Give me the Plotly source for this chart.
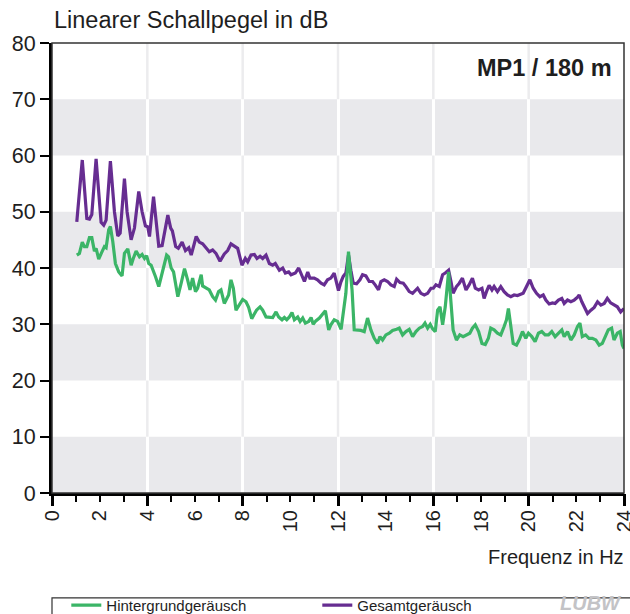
import plotly.graph_objects as go

# Hintergrundgeräusch (background noise), frequency in Hz / level in dB
hz_hintergrund = [
    1.04, 1.15, 1.27, 1.36, 1.46, 1.57, 1.67, 1.78, 1.85, 1.96, 2.10, 2.20, 2.27, 2.38, 2.45,
    2.55, 2.66, 2.80, 2.94, 3.04, 3.18, 3.32, 3.41, 3.53, 3.67, 3.78, 3.88, 3.97, 4.06, 4.16,
    4.34, 4.48, 4.65, 4.81, 4.89, 5.00, 5.10, 5.28, 5.42, 5.56, 5.69, 5.79, 5.90, 6.02, 6.11,
    6.26, 6.32, 6.47, 6.60, 6.74, 6.86, 6.99, 7.09, 7.23, 7.41, 7.51, 7.61, 7.72, 7.86, 8.00,
    8.14, 8.25, 8.38, 8.49, 8.58, 8.73, 8.84, 8.98, 9.12, 9.26, 9.40, 9.51, 9.65, 9.75, 9.85,
    9.96, 10.07, 10.17, 10.31, 10.41, 10.52, 10.63, 10.77, 10.87, 10.96, 11.07, 11.22, 11.33,
    11.47, 11.61, 11.70, 11.84, 11.98, 12.13, 12.33, 12.44, 12.59, 12.68, 12.82, 12.96, 13.10,
    13.24, 13.38, 13.52, 13.66, 13.76, 13.87, 14.01, 14.15, 14.29, 14.46, 14.57, 14.71, 14.85,
    14.99, 15.13, 15.27, 15.41, 15.55, 15.65, 15.76, 15.87, 15.97, 16.08, 16.18, 16.28, 16.39,
    16.50, 16.64, 16.74, 16.83, 16.97, 17.11, 17.25, 17.39, 17.53, 17.64, 17.76, 17.90, 18.04,
    18.18, 18.31, 18.41, 18.55, 18.69, 18.83, 18.97, 19.07, 19.15, 19.25, 19.35, 19.49, 19.60,
    19.74, 19.88, 19.99, 20.13, 20.27, 20.41, 20.55, 20.69, 20.83, 20.97, 21.11, 21.25, 21.39,
    21.49, 21.63, 21.77, 21.91, 22.05, 22.15, 22.25, 22.39, 22.53, 22.67, 22.82, 22.96, 23.09,
    23.23, 23.34, 23.48, 23.58, 23.72, 23.84, 23.93, 24.00,
]
db_hintergrund = [
    42.3, 42.6, 44.6, 43.8, 43.8, 45.4, 45.4, 43.0, 43.5, 41.6, 42.9, 43.8, 43.6, 46.8, 47.4,
    44.7, 40.8, 39.3, 38.6, 42.6, 43.4, 40.5, 41.7, 43.0, 42.0, 42.4, 41.7, 42.2, 40.8, 40.5,
    38.5, 36.7, 39.6, 42.3, 42.0, 40.0, 39.3, 34.9, 37.3, 39.9, 37.9, 36.1, 38.2, 35.8, 36.4,
    38.8, 36.8, 36.4, 36.1, 34.9, 34.3, 35.8, 36.1, 33.7, 35.2, 37.9, 36.4, 32.5, 33.4, 34.4,
    34.0, 33.0, 31.0, 32.0, 32.5, 33.1, 32.5, 31.3, 31.2, 31.2, 32.2, 31.3, 30.8, 31.2, 30.8,
    31.3, 32.1, 30.8, 31.3, 30.5, 31.1, 30.2, 30.5, 31.2, 30.0, 30.6, 31.1, 31.6,
    32.4, 29.0, 29.9, 30.8, 30.5, 29.1, 35.5, 42.9, 36.1, 29.0, 29.0, 28.9, 28.7,
    31.1, 29.0, 27.5, 26.6, 27.8, 27.2, 28.1, 28.4, 28.9, 29.1, 29.3, 28.1, 28.7,
    29.1, 27.8, 28.7, 29.3, 29.6, 30.2, 29.3, 30.0, 29.2, 28.7, 32.5, 33.1, 29.9,
    33.1, 39.3, 34.0, 29.0, 27.2, 28.1, 27.8, 28.1, 28.4, 29.3, 29.9, 28.7, 26.6,
    26.4, 27.5, 29.3, 29.0, 28.4, 28.1, 29.6, 30.8, 32.8, 29.6, 26.6, 26.3, 27.2,
    28.7, 27.5, 28.4, 27.8, 26.9, 28.4, 28.7, 28.1, 28.1, 28.7, 27.8, 28.4, 29.0,
    27.8, 28.7, 27.2, 28.1, 29.6, 30.2, 27.8, 28.1, 27.5, 27.5, 27.2, 26.3, 26.6,
    28.1, 29.0, 29.3, 27.2, 28.4, 28.7, 26.3, 25.7,
]

# Gesamtgeräusch (total noise), frequency in Hz / level in dB
hz_gesamt = [
    1.04, 1.27, 1.46, 1.57, 1.67, 1.85, 2.06, 2.17, 2.27, 2.45, 2.62, 2.76, 2.86, 3.04, 3.15,
    3.32, 3.46, 3.64, 3.78, 3.92, 4.02, 4.09, 4.26, 4.37, 4.48, 4.62, 4.86, 4.98, 5.05, 5.19,
    5.30, 5.46, 5.60, 5.74, 5.84, 6.05, 6.18, 6.32, 6.46, 6.60, 6.74, 6.88, 7.05, 7.23, 7.37,
    7.51, 7.65, 7.79, 7.97, 8.11, 8.21, 8.35, 8.49, 8.60, 8.73, 8.84, 8.98, 9.12, 9.26, 9.37,
    9.54, 9.68, 9.79, 9.93, 10.03, 10.21, 10.35, 10.49, 10.59, 10.73, 10.82, 11.00, 11.14,
    11.29, 11.42, 11.56, 11.70, 11.84, 11.91, 12.02, 12.12, 12.22, 12.33, 12.44, 12.54, 12.64,
    12.78, 12.92, 13.03, 13.17, 13.31, 13.45, 13.56, 13.70, 13.80, 13.94, 14.08, 14.22, 14.36,
    14.46, 14.60, 14.74, 14.85, 14.99, 15.13, 15.34, 15.48, 15.62, 15.76, 15.90, 16.00, 16.11,
    16.25, 16.39, 16.50, 16.64, 16.74, 16.83, 16.97, 17.09, 17.22, 17.37, 17.50, 17.64, 17.76,
    17.90, 18.04, 18.13, 18.23, 18.34, 18.46, 18.55, 18.69, 18.83, 18.97, 19.11, 19.25, 19.39,
    19.53, 19.67, 19.77, 19.91, 20.05, 20.19, 20.33, 20.47, 20.61, 20.72, 20.86, 21.00, 21.11,
    21.25, 21.39, 21.49, 21.63, 21.77, 21.91, 22.05, 22.12, 22.23, 22.37, 22.47, 22.61, 22.75,
    22.89, 23.03, 23.17, 23.30, 23.44, 23.58, 23.72, 23.86, 24.00,
]
db_gesamt = [
    48.2, 59.2, 48.8, 48.7, 49.5, 59.4, 48.1, 47.6, 48.5, 59.0, 50.0, 45.7, 46.2, 55.9, 50.0,
    45.0, 47.1, 53.6, 50.0, 47.5, 47.3, 45.6, 52.7, 47.6, 43.9, 44.0, 49.4, 47.1, 46.6, 43.8,
    43.5, 44.6, 43.1, 43.6, 42.3, 45.6, 44.6, 44.3, 43.7, 42.9, 43.2, 42.6, 41.2, 42.5, 43.1,
    44.3, 43.9, 43.5, 40.5, 41.7, 41.1, 42.3, 42.4, 41.7, 42.1, 41.7, 42.3, 40.8, 40.5, 40.8,
    39.6, 40.0, 39.1, 39.3, 38.8, 39.1, 40.0, 38.5, 37.6, 39.3, 38.2, 38.2, 37.9,
    37.3, 37.0, 37.9, 38.2, 39.1, 37.9, 36.0, 37.5, 38.5, 39.1, 42.3, 39.6, 37.3,
    37.2, 37.9, 38.8, 38.6, 37.6, 37.6, 37.0, 36.1, 37.6, 37.9, 37.6, 37.0, 36.7,
    38.0, 37.4, 37.3, 36.7, 35.8, 35.5, 36.4, 35.5, 35.2, 35.5, 36.4, 36.4, 37.0,
    36.7, 38.8, 39.1, 39.6, 37.6, 35.5, 36.7, 37.3, 38.2, 36.1, 37.0, 38.2, 36.4,
    36.1, 36.4, 34.6, 35.8, 36.9, 36.1, 36.7, 35.8, 36.7, 35.8, 35.2, 34.9, 35.2,
    35.1, 35.3, 35.5, 36.7, 37.9, 36.4, 35.5, 34.9, 35.2, 34.3, 33.6, 33.8, 33.7,
    34.3, 34.6, 33.7, 34.3, 34.0, 34.3, 34.8, 35.2, 34.0, 32.8, 31.9, 32.5, 33.0,
    34.0, 33.4, 33.7, 34.6, 33.8, 33.4, 33.1, 32.2, 32.8,
]

x_ticks = list(range(0, 25, 2))
y_ticks = list(range(0, 81, 10))
shaded_bands = [(0, 10), (20, 30), (40, 50), (60, 70)]
plain_bands = [(10, 20), (30, 40), (50, 60), (70, 80)]
grid_hz = [4, 8, 12, 16, 20]

GREEN = "#3bb567"
PURPLE = "#662d91"
BAND = "#e9e9ec"
INK = "#1e1e1e"
FONT = "Liberation Sans, Arial, sans-serif"

fig = go.Figure()

fig.add_trace(go.Scatter(
    x=hz_gesamt, y=db_gesamt, mode="lines", name="Gesamtgeräusch",
    line=dict(color=PURPLE, width=3.2), legendrank=2,
))
fig.add_trace(go.Scatter(
    x=hz_hintergrund, y=db_hintergrund, mode="lines", name="Hintergrundgeräusch",
    line=dict(color=GREEN, width=3.2), legendrank=1,
))

# secondary x axis carrying the long 4 Hz ticks and the vertical grid
fig.add_trace(go.Scatter(x=[0, 24], y=[None, None], xaxis="x2", showlegend=False,
                         hoverinfo="skip"))

shapes = []
for lo, hi in shaded_bands:
    shapes.append(dict(type="rect", xref="paper", x0=0, x1=1, yref="y", y0=lo, y1=hi,
                       fillcolor=BAND, line_width=0, layer="below"))
for lo, hi in plain_bands:
    for g in grid_hz:
        shapes.append(dict(type="line", xref="x", x0=g, x1=g, yref="y", y0=lo, y1=hi,
                           line=dict(color="#ececee", width=2.5), layer="between"))
# plot frame
shapes.append(dict(type="rect", xref="paper", x0=0, x1=1, yref="paper", y0=0, y1=1,
                   line=dict(color="#333333", width=1.5), layer="above"))
# legend frame
shapes.append(dict(type="rect", xref="paper", x0=0, x1=1.04, yref="paper", y0=-0.3, y1=-0.233,
                   line=dict(color="#333333", width=1.2), layer="above"))

fig.update_layout(
    width=630, height=614,
    margin=dict(l=52, r=6, t=43, b=121, autoexpand=False),
    paper_bgcolor="white", plot_bgcolor="white",
    font=dict(family=FONT, color=INK),
    showlegend=True,
    legend=dict(orientation="h", x=0.025, xanchor="left", yref="container", y=0.014,
                yanchor="middle",
                font=dict(size=15, color=INK), entrywidth=206, entrywidthmode="pixels",
                bgcolor="rgba(0,0,0,0)", borderwidth=0),
    xaxis=dict(range=[0, 24], tickvals=x_ticks, ticktext=[str(v) for v in x_ticks],
               tickangle=-90, ticks="outside", ticklen=6, tickwidth=2, tickcolor="black",
               tickfont=dict(size=20, color=INK), showgrid=False, zeroline=False,
               showline=True, linecolor="black", linewidth=3, automargin=False,
               ticklabeloverflow="allow",
               minor=dict(dtick=1, ticks="outside", ticklen=6, tickwidth=2, tickcolor="black")),
    xaxis2=dict(range=[0, 24], overlaying="x", anchor="y", side="bottom", dtick=4, tick0=0,
                ticks="outside", ticklen=12, tickwidth=2.5, tickcolor="black",
                showticklabels=False, showgrid=True, gridcolor="white", gridwidth=2.5,
                zeroline=False, showline=False, automargin=False),
    yaxis=dict(range=[0, 80], tickvals=y_ticks, ticks="outside", ticklen=9, tickwidth=2,
               tickcolor="black", tickfont=dict(size=21.5, color=INK), showgrid=False,
               zeroline=False, showline=True, linecolor="black", linewidth=3,
               automargin=False),
    shapes=shapes,
    annotations=[
        dict(text="Linearer Schallpegel in dB", xref="paper", yref="paper", x=0, y=1,
             xanchor="left", yanchor="bottom", yshift=8, showarrow=False,
             font=dict(size=23.5, color=INK)),
        dict(text="Frequenz in Hz", xref="paper", yref="paper", x=1.004, y=-0.142,
             xanchor="right", yanchor="middle", showarrow=False,
             font=dict(size=20, color=INK)),
        dict(text="<b>MP1 / 180 m</b>", xref="paper", yref="paper", x=0.983, y=0.944,
             xanchor="right", yanchor="middle", showarrow=False,
             font=dict(size=23.5, color=INK)),
        dict(text="<b><i>LUBW</i></b>", xref="paper", yref="paper", x=1.0, y=-0.245,
             xanchor="right", yanchor="middle", showarrow=False,
             font=dict(size=20, color="#c3c3c6")),
    ],
)

fig.write_html("out.html")
